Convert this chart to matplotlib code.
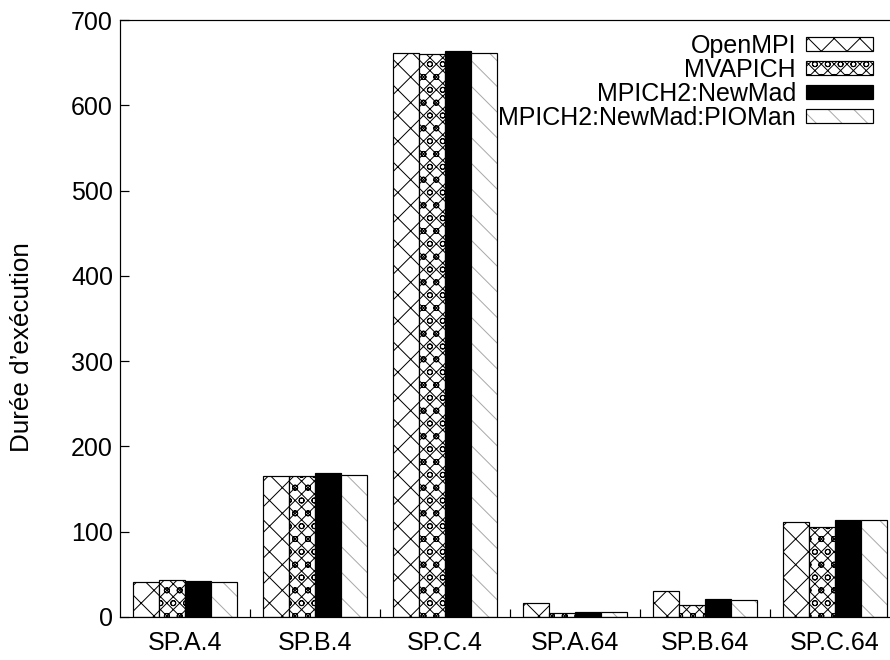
import matplotlib
matplotlib.use("Agg")
import matplotlib.pyplot as plt
import numpy as np
from matplotlib.legend_handler import HandlerTuple

categories = ["SP.A.4", "SP.B.4", "SP.C.4", "SP.A.64", "SP.B.64", "SP.C.64"]
series_names = ["OpenMPI", "MVAPICH", "MPICH2:NewMad", "MPICH2:NewMad:PIOMan"]
openmpi = [41, 165.6, 661, 16, 30, 111]
mvapich = [43, 165.3, 659.6, 4.3, 14.4, 106]
newmad = [42, 168.4, 664, 5.9, 21, 113.7]
pioman = [40.6, 166.5, 661, 5.5, 20.3, 113.7]
yticks = [0, 100, 200, 300, 400, 500, 600, 700]

DPI = 77
PX = 72.0 / DPI  # points per pixel

plt.rcParams['font.family'] = ['Liberation Sans', 'DejaVu Sans']
plt.rcParams['hatch.linewidth'] = 1.0 * PX
FS = 25 * PX
LW = 1.2 * PX

W, H = 890, 660
fig = plt.figure(figsize=(W / DPI, H / DPI), dpi=DPI)
ax = fig.add_axes([120 / W, 1 - 617 / H, (900 - 120) / W, (617 - 20) / H])

x = np.arange(len(categories))
bw = 0.2
offs = [-0.3, -0.1, 0.1, 0.3]

b1 = ax.bar(x + offs[0], openmpi, bw, facecolor='white', edgecolor='black', hatch='x', linewidth=LW)
b2 = ax.bar(x + offs[1], mvapich, bw, facecolor='white', edgecolor='black', hatch='xxo', linewidth=LW)
b3 = ax.bar(x + offs[2], newmad, bw, facecolor='black', edgecolor='black', linewidth=LW)
b4h = ax.bar(x + offs[3], pioman, bw, facecolor='white', edgecolor='#aaaaaa', hatch='\\', linewidth=0)
b4 = ax.bar(x + offs[3], pioman, bw, facecolor='none', edgecolor='black', linewidth=LW)

ax.set_xlim(-0.5, 5.5)
ax.set_ylim(0, 700)
ax.set_yticks(yticks)
ax.set_yticklabels([str(v) for v in yticks], fontsize=FS)
ax.tick_params(axis='y', direction='in', length=9 * PX, width=LW, pad=7 * PX)
ax.set_xticks(x)
ax.set_xticklabels(categories, fontsize=FS)
ax.tick_params(axis='x', which='major', length=0, pad=14 * PX)
ax.set_xticks(x[:-1] + 0.5, minor=True)
ax.tick_params(axis='x', which='minor', direction='in', length=8 * PX, width=LW)
for s in ax.spines.values():
    s.set_linewidth(LW)

fig.text(22 / W, 1 - 347 / H, "Durée d’exécution", rotation=90, fontsize=26 * PX,
         ha='center', va='center')

handles = [b1, b2, b3, (b4h, b4)]
leg = fig.legend(handles, series_names, loc='upper right',
                 bbox_to_anchor=(873 / W, 1 - 34 / H), frameon=False,
                 markerfirst=False, fontsize=FS, handlelength=67 / 25,
                 handleheight=13 / 25, handletextpad=0.4, labelspacing=0.0,
                 borderpad=0, borderaxespad=0,
                 handler_map={tuple: HandlerTuple(ndivide=1, pad=0)})

fig.savefig("out.png", dpi=DPI)
